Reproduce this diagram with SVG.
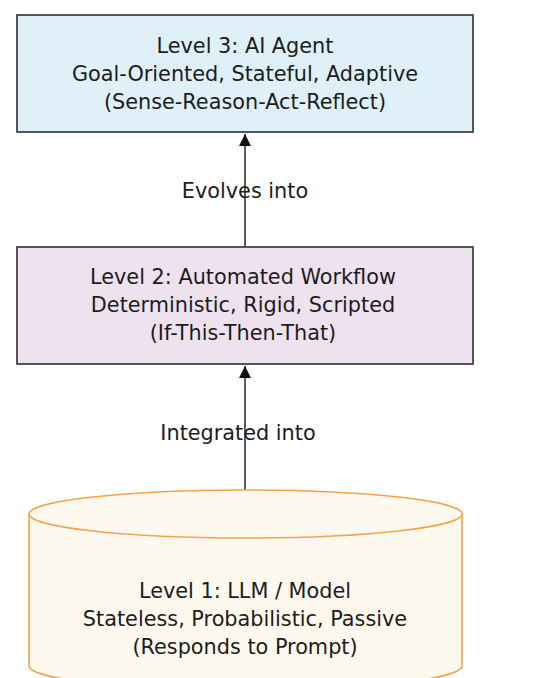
<svg xmlns="http://www.w3.org/2000/svg" width="537" height="678" viewBox="0 0 537 678">
<defs>
<style>
.t{font-family:"DejaVu Sans","Liberation Sans",sans-serif;font-size:20.8px;fill:#1c1c1c;text-anchor:middle}
.edge{stroke:#333;stroke-width:1.6;fill:none}
</style>
<marker id="ah" markerWidth="12" markerHeight="12" refX="10" refY="5" orient="auto" markerUnits="userSpaceOnUse" viewBox="0 0 10 10">
<path d="M0,0 L10,5 L0,10 z" fill="#111"/>
</marker>
</defs>
<rect width="537" height="678" fill="#fff"/>
<g id="connectors">
<line class="edge" x1="245" y1="247" x2="245" y2="134" marker-end="url(#ah)"/>
<line class="edge" x1="245" y1="490" x2="245" y2="366" marker-end="url(#ah)"/>
<text class="t" x="245" y="198">Evolves into</text>
<text class="t" x="238" y="440">Integrated into</text>
</g>
<g id="level3">
<rect x="17" y="15" width="456" height="117" fill="#dff0f8" stroke="#444" stroke-width="1.8"/>
<text class="t" x="245" y="53">Level 3: AI Agent</text>
<text class="t" x="245" y="81">Goal-Oriented, Stateful, Adaptive</text>
<text class="t" x="245" y="109">(Sense-Reason-Act-Reflect)</text>
</g>
<g id="level2">
<rect x="17" y="247" width="456" height="117" fill="#eee2ef" stroke="#444" stroke-width="1.8"/>
<text class="t" x="243" y="284">Level 2: Automated Workflow</text>
<text class="t" x="243" y="312">Deterministic, Rigid, Scripted</text>
<text class="t" x="243" y="340">(If-This-Then-That)</text>
</g>
<g id="level1">
<path d="M29,514 L29,666 A216.5,24 0 0 0 462,666 L462,514" fill="#fef9ee" stroke="#f2a548" stroke-width="1.6"/>
<ellipse cx="245.5" cy="514" rx="216.5" ry="24" fill="#fef9ee" stroke="#f2a548" stroke-width="1.6"/>
<text class="t" x="245" y="598">Level 1: LLM / Model</text>
<text class="t" x="245" y="626">Stateless, Probabilistic, Passive</text>
<text class="t" x="245" y="654">(Responds to Prompt)</text>
</g>
</svg>
